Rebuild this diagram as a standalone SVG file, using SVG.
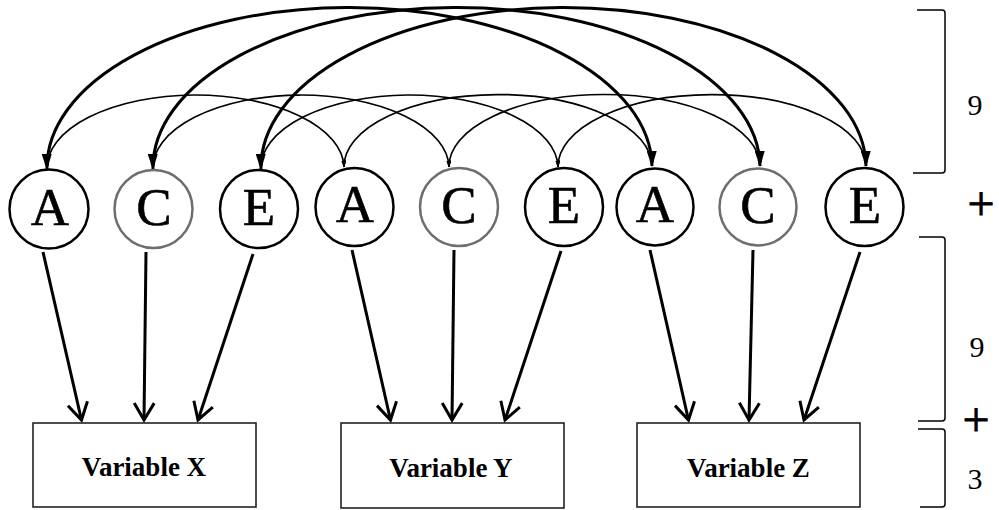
<svg xmlns="http://www.w3.org/2000/svg" width="999" height="510" viewBox="0 0 999 510">
<style>
.bg{fill:#fff}
.node circle{fill:#fff;stroke:#000;stroke-width:2.5}
.node.c circle{stroke:#6e6e6e}
.lt{font-family:"Liberation Serif","Times New Roman",serif;font-size:53px;text-anchor:middle;fill:#000;stroke:#000;stroke-width:0.6}
.box rect{fill:#fff;stroke:#222;stroke-width:1.6}
.bt{font-family:"Liberation Serif","Times New Roman",serif;font-size:27px;font-weight:bold;text-anchor:middle;fill:#000}
.thick{fill:none;stroke:#000;stroke-width:3;marker-start:url(#hThick);marker-end:url(#hThick)}
.thin{fill:none;stroke:#000;stroke-width:1.7;marker-start:url(#hThin);marker-end:url(#hThin)}
.down{fill:none;stroke:#000;stroke-width:3;marker-end:url(#hOpen)}
.brk{fill:none;stroke:#000;stroke-width:1.5}
.side{font-family:"Liberation Serif","Times New Roman",serif;font-size:30px;text-anchor:middle;fill:#000}
.plus{font-family:"Liberation Serif","Times New Roman",serif;font-size:48px;text-anchor:middle;fill:#000;stroke:#000;stroke-width:0.8}
</style>
<defs>
<marker id="hThick" markerUnits="userSpaceOnUse" viewBox="0 0 16 10" refX="15" refY="5" markerWidth="16" markerHeight="10" orient="auto-start-reverse"><path d="M0,0 L16,5 L0,10 z" fill="#000"/></marker>
<marker id="hThin" markerUnits="userSpaceOnUse" viewBox="0 0 7 5" refX="6.5" refY="2.5" markerWidth="7" markerHeight="5" orient="auto-start-reverse"><path d="M0,0 L7,2.5 L0,5 z" fill="#000"/></marker>
<marker id="hOpen" markerUnits="userSpaceOnUse" viewBox="-20 -12 24 24" refX="0" refY="0" markerWidth="24" markerHeight="24" orient="auto"><path d="M-17,-10 L0,0 L-17,10" fill="none" stroke="#000" stroke-width="3"/></marker>
</defs>
<rect class="bg" x="0" y="0" width="999" height="510"/>
<g id="connectors">
<path class="thin" d="M47,169 A148.5,73 0 0 1 344,167"/>
<path class="thin" d="M153,169 A148,73 0 0 1 449,167"/>
<path class="thin" d="M261,169 A148.5,73 0 0 1 558,167"/>
<path class="thin" d="M344,167 A154,72 0 0 1 652,166"/>
<path class="thin" d="M449,167 A155.5,72 0 0 1 760,166"/>
<path class="thin" d="M558,167 A154,72 0 0 1 866,166"/>
<path class="thick" d="M47,169 A302.5,160 0 0 1 652,166"/>
<path class="thick" d="M153,169 A303.5,160 0 0 1 760,166"/>
<path class="thick" d="M261,169 A302.5,160 0 0 1 866,166"/>
<line class="down" x1="43" y1="252" x2="81.5" y2="420"/>
<line class="down" x1="146" y1="252" x2="144" y2="420"/>
<line class="down" x1="253" y1="254" x2="198" y2="420"/>
<line class="down" x1="352" y1="250" x2="390.5" y2="420"/>
<line class="down" x1="454" y1="250" x2="452" y2="420"/>
<line class="down" x1="561" y1="251" x2="505" y2="420"/>
<line class="down" x1="650" y1="250" x2="688.5" y2="420"/>
<line class="down" x1="753" y1="250" x2="749" y2="420"/>
<line class="down" x1="860" y1="252" x2="804" y2="420"/>
</g>
<g id="A1" class="node"><circle cx="49" cy="209" r="39.5"/><text class="lt" x="50" y="225">A</text></g>
<g id="C1" class="node c"><circle cx="153.5" cy="209" r="39"/><text class="lt" x="154" y="225">C</text></g>
<g id="E1" class="node"><circle cx="259" cy="209" r="39"/><text class="lt" x="259" y="225">E</text></g>
<g id="A2" class="node"><circle cx="354.5" cy="207" r="39"/><text class="lt" x="355" y="222">A</text></g>
<g id="C2" class="node c"><circle cx="459" cy="207" r="39"/><text class="lt" x="459" y="223">C</text></g>
<g id="E2" class="node"><circle cx="564" cy="207" r="39"/><text class="lt" x="564" y="223">E</text></g>
<g id="A3" class="node"><circle cx="655" cy="207" r="38.5"/><text class="lt" x="655" y="222">A</text></g>
<g id="C3" class="node c"><circle cx="758" cy="207" r="38.5"/><text class="lt" x="758" y="223">C</text></g>
<g id="E3" class="node"><circle cx="864.5" cy="207" r="39"/><text class="lt" x="865" y="223">E</text></g>
<g id="VarX" class="box"><rect x="33" y="423" width="223" height="84"/><text class="bt" x="144" y="476">Variable X</text></g>
<g id="VarY" class="box"><rect x="341" y="423" width="223" height="85"/><text class="bt" x="451" y="477">Variable Y</text></g>
<g id="VarZ" class="box"><rect x="637" y="423" width="223" height="84"/><text class="bt" x="748.5" y="477">Variable Z</text></g>
<g id="brackets">
<path class="brk" d="M917,10 L942,10 Q945,10 945,13 L945,170 Q945,173 942,173 L913,173"/>
<path class="brk" d="M919,237 L942,237 Q945,237 945,240 L945,418 Q945,421 942,421 L918,421"/>
<path class="brk" d="M918,429 L942,429 Q945,429 945,432 L945,504 Q945,507 942,507 L920,507"/>
<text class="side" x="975" y="115">9</text>
<text class="plus" x="981" y="220">+</text>
<text class="side" x="977" y="357">9</text>
<text class="plus" x="976" y="436">+</text>
<text class="side" x="975" y="489">3</text>
</g>
</svg>
